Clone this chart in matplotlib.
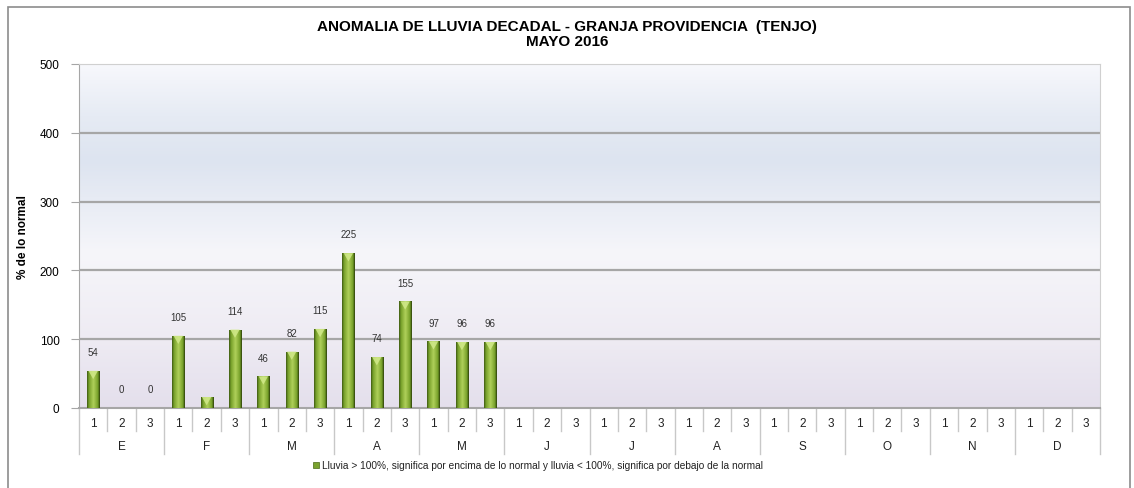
import matplotlib
matplotlib.use("Agg")
import matplotlib.pyplot as plt
import matplotlib.transforms as mtransforms
from matplotlib.patches import Rectangle, Polygon
from matplotlib.colors import LinearSegmentedColormap
import numpy as np

plt.rcParams["font.family"] = ["Liberation Sans", "DejaVu Sans"]

months = ["E", "F", "M", "A", "M", "J", "J", "A", "S", "O", "N", "D"]
decades = ["1", "2", "3"]
# % de lo normal por decada (solo enero - mayo con datos)
values = [54, 0, 0, 105, 16, 114, 46, 82, 115, 225, 74, 155, 97, 96, 96]
labels = ["54", "0", "0", "105", "", "114", "46", "82", "115", "225", "74", "155", "97", "96", "96"]
yticks = [0, 100, 200, 300, 400, 500]

fig = plt.figure(figsize=(11.34, 4.89), dpi=100)
ax = fig.add_axes([79 / 1134, 80 / 489, 1021 / 1134, 344 / 489])

n = len(months) * 3

# background gradient of plot area
bg = LinearSegmentedColormap.from_list(
    "bg", [(0.0, "#e4dfec"), (0.2, "#eeebf3"), (0.45, "#f6f6fa"),
           (0.72, "#dde4f0"), (0.85, "#e6ebf4"), (1.0, "#f7f8fc")])
grad = np.linspace(0, 1, 256).reshape(-1, 1)
ax.imshow(grad, aspect="auto", cmap=bg, origin="lower",
          extent=[0, n, 0, 500], zorder=0)

for y in yticks[1:-1]:
    ax.axhline(y, color="#a6a6a6", lw=1.6, zorder=1)

# bars with horizontal green gradient
green = LinearSegmentedColormap.from_list(
    "g", [(0.0, "#3e5a12"), (0.15, "#76a02a"), (0.5, "#b0d05a"),
          (0.85, "#76a02a"), (1.0, "#2c3f0a")])
hgrad = np.linspace(0, 1, 64).reshape(1, -1)
bw = 0.43
for i, v in enumerate(values):
    x0 = i + 0.5 - bw / 2
    if v > 0:
        rect = Rectangle((x0, 0), bw, v, facecolor="none", edgecolor="none")
        ax.add_patch(rect)
        im = ax.imshow(hgrad, aspect="auto", cmap=green,
                       extent=[x0, x0 + bw, 0, v], zorder=3)
        im.set_clip_path(rect)
        tri_h = min(12, v)
        ax.add_patch(Polygon([(x0 + 0.05, v), (x0 + bw - 0.05, v), (x0 + bw / 2, v - tri_h)],
                             closed=True, facecolor="#d2ea8a", edgecolor="none",
                             alpha=0.85, zorder=4))
    if labels[i]:
        ax.annotate(labels[i], (i + 0.5, v), xytext=(0, 13.5), textcoords="offset points",
                    ha="center", va="center", fontsize=7, color="#333333", zorder=5)

ax.set_xlim(0, n)
ax.set_ylim(0, 500)

ax.set_yticks(yticks)
ax.set_yticklabels([str(t) for t in yticks], fontsize=8.5)
ax.tick_params(axis="y", length=6, color="#a6a6a6", pad=8)
ax.set_xticks([])
for s in ["top", "right"]:
    ax.spines[s].set_color("#d0d0d0")
ax.spines["left"].set_color("#a6a6a6")
ax.spines["bottom"].set_color("#a6a6a6")
ax.spines["bottom"].set_linewidth(1.5)

fig.text(23 / 1134, 1 - 237 / 489, "% de lo normal", rotation=90, ha="center",
         va="center", fontsize=8.5, fontweight="bold")

# two-level category axis
trans = mtransforms.blended_transform_factory(ax.transData, ax.transAxes)
row1 = -23 / 344
row2 = -46 / 344
for i in range(n):
    ax.text(i + 0.5, -15 / 344, decades[i % 3], transform=trans, ha="center",
            va="center", fontsize=8.5, color="#222222")
    if i % 3 != 0:
        ax.plot([i, i], [0, row1], transform=trans, color="#c8c8c8", lw=1,
                clip_on=False)
for m, name in enumerate(months):
    ax.text(m * 3 + 1.5, -38 / 344, name, transform=trans, ha="center",
            va="center", fontsize=8.5, color="#222222")
for m in range(len(months) + 1):
    ax.plot([m * 3, m * 3], [0, row2], transform=trans, color="#c8c8c8", lw=1,
            clip_on=False)

fig.text(0.5, 1 - 27 / 489, "ANOMALIA DE LLUVIA DECADAL - GRANJA PROVIDENCIA  (TENJO)",
         ha="center", va="center", fontsize=11, fontweight="bold")
fig.text(0.5, 1 - 42 / 489, "MAYO 2016", ha="center", va="center",
         fontsize=11, fontweight="bold")

# legend
fig.patches.append(Rectangle((313 / 1134, 1 - 469 / 489), 6 / 1134, 6 / 489,
                             transform=fig.transFigure, facecolor="#7aa22e",
                             edgecolor="#4a6a16", lw=0.5))
fig.text(322 / 1134, 1 - 466 / 489,
         "Lluvia > 100%, significa por encima de lo normal y lluvia < 100%, significa por debajo de la normal",
         ha="left", va="center", fontsize=7.3, color="#222222")

# outer chart border
fig.patches.append(Rectangle((8 / 1134, -0.01), 1122 / 1134, 1 - 8 / 489 + 0.01,
                             transform=fig.transFigure, facecolor="none",
                             edgecolor="#8c8c8c", lw=1.2))

fig.savefig("out.png", dpi=100)
